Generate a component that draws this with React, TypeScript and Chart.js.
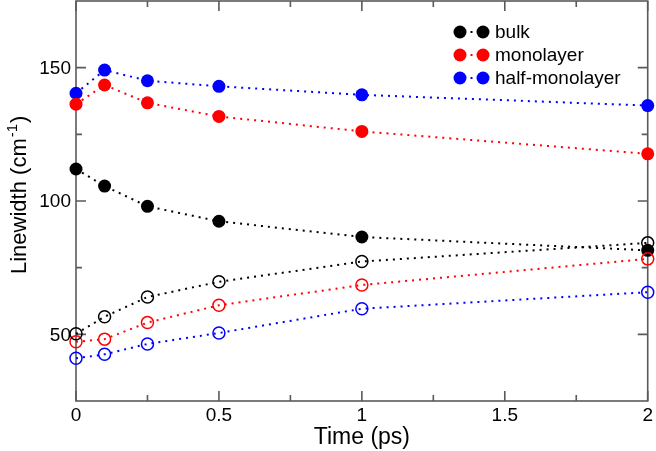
import React, { useEffect, useRef } from "react";
import { Chart, registerables } from "chart.js";

Chart.register(...registerables);

const times = [0, 0.1, 0.25, 0.5, 1, 2];
const bulkFilled = [112.0, 105.6, 98.0, 92.4, 86.5, 81.5];
const monoFilled = [136.3, 143.5, 136.8, 131.7, 126.1, 117.7];
const halfFilled = [140.4, 149.1, 145.1, 143.0, 139.8, 135.8];
const bulkOpen = [50.2, 56.6, 64.0, 69.7, 77.3, 84.3];
const monoOpen = [47.2, 48.2, 54.4, 60.9, 68.5, 78.3];
const halfOpen = [41.0, 42.5, 46.4, 50.5, 59.6, 65.8];

const legendLabels = ["bulk", "monolayer", "half-monolayer"];
const seriesColors = ["#000000", "#ff0000", "#0000ff"];
const yMajorTicks = [50, 100, 150];
const yMinorTicks = [75, 125];
const xMajorTicks = [0, 0.5, 1, 1.5, 2];
const xMinorTicks = [0.25, 0.75, 1.25, 1.75];
const yTitleMain = "Linewidth (cm";
const yTitleSup = "-1";
const yTitleEnd = ")";

const FONT = "'Liberation Sans', Arial, Helvetica, sans-serif";

const boxPlugin = {
  id: "boxTicks",
  beforeDatasetsDraw(chart: any) {
    const { ctx, chartArea, scales } = chart;
    const { left, right, top, bottom } = chartArea;
    ctx.save();
    ctx.strokeStyle = "#5a5a5a";
    ctx.lineWidth = 1.6;
    ctx.strokeRect(left, top, right - left, bottom - top);
    const drawX = (v: number, len: number) => {
      const px = scales.x.getPixelForValue(v);
      ctx.beginPath();
      ctx.moveTo(px, bottom);
      ctx.lineTo(px, bottom - len);
      ctx.moveTo(px, top);
      ctx.lineTo(px, top + len);
      ctx.stroke();
    };
    const drawY = (v: number, len: number) => {
      const py = scales.y.getPixelForValue(v);
      ctx.beginPath();
      ctx.moveTo(left, py);
      ctx.lineTo(left + len, py);
      ctx.moveTo(right, py);
      ctx.lineTo(right - len, py);
      ctx.stroke();
    };
    xMajorTicks.forEach((v) => drawX(v, 10));
    xMinorTicks.forEach((v) => drawX(v, 6));
    yMajorTicks.forEach((v) => drawY(v, 10));
    yMinorTicks.forEach((v) => drawY(v, 6));
    // y tick labels
    ctx.fillStyle = "#000";
    ctx.font = `19px ${FONT}`;
    ctx.textAlign = "right";
    ctx.textBaseline = "middle";
    yMajorTicks.forEach((v) => {
      ctx.fillText(String(v), left - 5, scales.y.getPixelForValue(v) + 1);
    });
    ctx.restore();
  },
  afterDraw(chart: any) {
    const { ctx } = chart;
    const ys = [32, 55, 78];
    ctx.save();
    legendLabels.forEach((label, i) => {
      const y = ys[i];
      const c = seriesColors[i];
      ctx.fillStyle = c;
      ctx.beginPath();
      ctx.arc(460, y, 6.5, 0, Math.PI * 2);
      ctx.fill();
      ctx.beginPath();
      ctx.arc(483, y, 6.5, 0, Math.PI * 2);
      ctx.fill();
      ctx.fillRect(470.5, y - 1, 2, 2);
      ctx.fillStyle = "#000";
      ctx.font = `19px ${FONT}`;
      ctx.textBaseline = "middle";
      ctx.textAlign = "left";
      ctx.fillText(label, 495, y + 1);
    });
    // y-axis title with superscript
    ctx.translate(26, 274);
    ctx.rotate(-Math.PI / 2);
    ctx.fillStyle = "#000";
    ctx.textBaseline = "alphabetic";
    ctx.textAlign = "left";
    ctx.font = `22px ${FONT}`;
    ctx.fillText(yTitleMain, 0, 0);
    let x = ctx.measureText(yTitleMain).width + 1;
    ctx.font = `15px ${FONT}`;
    ctx.fillText(yTitleSup, x, -9);
    x += ctx.measureText(yTitleSup).width + 1;
    ctx.font = `22px ${FONT}`;
    ctx.fillText(yTitleEnd, x, 0);
    ctx.restore();
  },
};

function mk(values: number[], color: string, filled: boolean) {
  return {
    data: times.map((t, i) => ({ x: t, y: values[i] })),
    borderColor: color,
    borderWidth: 2,
    borderDash: [2, 5],
    pointRadius: filled ? 6.5 : 6,
    pointBorderWidth: filled ? 0 : 1.5,
    pointBackgroundColor: filled ? color : "rgba(0,0,0,0)",
    pointBorderColor: color,
    fill: false,
    tension: 0,
    clip: false as any,
  };
}

export default function App() {
  const ref = useRef<HTMLCanvasElement | null>(null);
  useEffect(() => {
    if (!ref.current) return;
    const chart = new Chart(ref.current, {
      type: "line",
      data: {
        datasets: [
          mk(bulkOpen, seriesColors[0], false),
          mk(monoOpen, seriesColors[1], false),
          mk(halfOpen, seriesColors[2], false),
          mk(bulkFilled, seriesColors[0], true),
          mk(monoFilled, seriesColors[1], true),
          mk(halfFilled, seriesColors[2], true),
        ] as any,
      },
      options: {
        animation: false,
        responsive: false,
        layout: { autoPadding: false, padding: { left: 0, top: 1, right: 7, bottom: 0 } },
        plugins: { legend: { display: false }, tooltip: { enabled: false } },
        scales: {
          x: {
            type: "linear",
            min: 0,
            max: 2,
            grid: { display: false, drawTicks: false },
            border: { display: false },
            ticks: {
              stepSize: 0.5,
              color: "#000",
              padding: 3,
              maxRotation: 0,
              font: { family: FONT, size: 19 },
              callback: (v: any) => String(v),
            },
            title: {
              display: true,
              text: "Time (ps)",
              color: "#000",
              font: { family: FONT, size: 23 },
              padding: { top: 0, bottom: 0 },
            },
            afterFit: (s: any) => {
              s.height = 50;
            },
          },
          y: {
            type: "linear",
            min: 25,
            max: 175,
            grid: { display: false, drawTicks: false },
            border: { display: false },
            ticks: { display: false, stepSize: 25 },
            title: { display: false },
            afterFit: (s: any) => {
              s.width = 76;
            },
          },
        },
      } as any,
      plugins: [boxPlugin],
    });
    return () => chart.destroy();
  }, []);
  return (
    <div style={{ position: "fixed", left: 0, top: 0, width: 656, height: 451, background: "#fff" }}>
      <canvas ref={ref} width={656} height={451} style={{ display: "block" }} />
    </div>
  );
}
